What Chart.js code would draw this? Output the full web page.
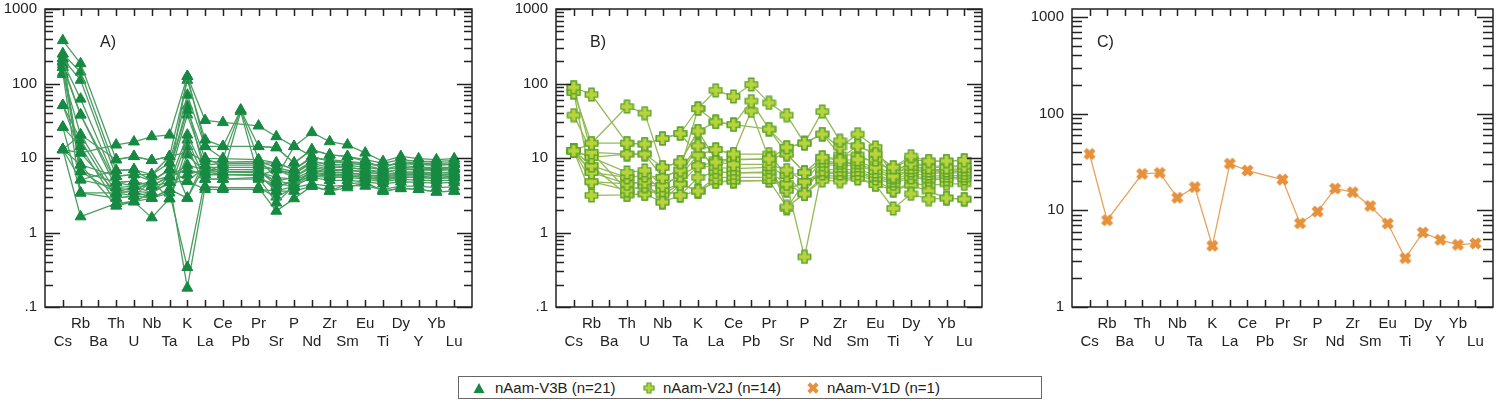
<!DOCTYPE html>
<html>
<head>
<meta charset="utf-8">
<script src="https://cdn.jsdelivr.net/npm/chart.js@4.4.1/dist/chart.umd.min.js"></script>
<style>
  body { margin: 0; background: #fff; width: 1500px; height: 408px; position: relative; overflow: hidden;
         font-family: "Liberation Sans", Arial, sans-serif; color: #222; }
  canvas { position: absolute; top: 0; }
  .etiqueta { position: absolute; top: 33px; font-size: 16px; line-height: 18px; }
  #leyenda { position: absolute; left: 458px; top: 376px; width: 584px; height: 23px; box-sizing: border-box;
             border: 1px solid #666; font-size: 15px; }
  .item { position: absolute; top: 2px; line-height: 18px; white-space: nowrap; }
  .item svg { position: absolute; top: 3px; }
</style>
</head>
<body>
<canvas id="chartA" width="490" height="355" style="left:0"></canvas>
<canvas id="chartB" width="500" height="355" style="left:490px"></canvas>
<canvas id="chartC" width="500" height="355" style="left:1000px"></canvas>
<div class="etiqueta" style="left:100px">A)</div>
<div class="etiqueta" style="left:590px">B)</div>
<div class="etiqueta" style="left:1097px">C)</div>
<div id="leyenda">
  <div class="item" style="left:36px"><svg width="12" height="12" style="left:-22px"><polygon points="6,1 11.5,11 0.5,11" fill="#168a42"/></svg>nAam-V3B (n=21)</div>
  <div class="item" style="left:204px"><svg width="12" height="12" style="left:-20px"><polygon points="4,1 8,1 8,4 11,4 11,8 8,8 8,11 4,11 4,8 1,8 1,4 4,4" fill="#b9d43a" stroke="#5da42f" stroke-width="1.2"/></svg>nAam-V2J (n=14)</div>
  <div class="item" style="left:368px"><svg width="12" height="12" style="left:-20px"><g transform="rotate(45 6 6)"><polygon points="4,0 8,0 8,4 12,4 12,8 8,8 8,12 4,12 4,8 0,8 0,4 4,4" fill="#e6913c"/></g></svg>nAam-V1D (n=1)</div>
</div>
<script>
// Elementos del diagrama multielemento (eje X)
const elementos = ['Cs', 'Rb', 'Ba', 'Th', 'U', 'Nb', 'Ta', 'K', 'La', 'Ce', 'Pb', 'Pr', 'Sr', 'P',
                   'Nd', 'Zr', 'Sm', 'Eu', 'Ti', 'Dy', 'Y', 'Yb', 'Lu'];

// Marcas del eje Y
const ticksAB = [0.1, 1, 10, 100, 1000];
const etiquetasAB = ['.1', '1', '10', '100', '1000'];
const ticksC = [1, 10, 100, 1000];
const etiquetasC = ['1', '10', '100', '1000'];

// nAam-V3B (n=21), normalizado
const serieV3B = [
  [13, 11.7, null, 15, 16.5, 19.4, 20.4, 125, 32, 30, null, 27, 19.4, 14.3, 22, 16.6, 15, 11.7, 9, 10.5, 9.8, 9.5, 9.8],
  [378, 185, null, 9.5, 10.5, 9.3, 10.5, 111, 17.5, 14.3, 44, 14.3, 13.8, 8.6, 12.9, 11, 10.5, 9, 7.5, 9, 8.5, 8.5, 8.6],
  [250, 143, null, 6.8, 7, 6, 8.6, 70, 14.3, 9.8, null, 9.5, 8.6, 7, 10.5, 9, 8.5, 8, 7, 8, 7.5, 7.5, 7.5],
  [215, 111, null, 5.7, 6, 4.9, 7, 44, 9.8, 8, null, 8, 7, 6, 9, 8, 7.5, 7, 6.5, 7, 7, 6.8, 7],
  [194, 62, null, 4.7, 4.9, 4.2, 5.7, 38, 8, 6.5, null, 6.6, 4.9, 5.5, 8, 7, 7, 6.5, 6, 6.5, 6.5, 6.3, 6.5],
  [166, 38, null, 4, 4.2, 3.4, 4.7, 20.4, 6.5, 6, null, 6, 3.6, 4.2, 7, 6.5, 6.3, 6, 5.5, 6, 6, 5.8, 6],
  [133, 20.5, null, 3.4, 3.6, 2.9, 3.8, 17.5, 5.2, 5.2, null, 5.5, 2.5, 4.2, 6, 5.7, 5.8, 5.5, 5, 5.5, 5.5, 5.3, 5.5],
  [51, 17.5, null, 2.9, 3.1, 4.9, 2.85, 14.3, 4.1, 4, null, 4, 1.94, 2.85, 4.2, 3.6, 4.5, 4.7, 3.6, 3.9, 3.8, 3.5, 3.6],
  [26, 14.3, null, 2.45, 2.6, 1.58, 2.85, 11, 6.5, 6.5, null, 6.3, 4.9, 4.5, 6.5, 6, 6, 5.8, 5.3, 5.8, 5.7, 5.5, 5.7],
  [13, 8.1, null, 2.27, 2.6, 3.4, 5.7, 7, 6, 6, null, 5.8, 7, 5.5, 7.5, 6.8, 6.8, 6.5, 6, 6.3, 6.3, 6, 6.2],
  [220, 6.6, null, 3.4, 4.2, 4.2, 4.7, 6, 7, 7, null, 7, 4.2, 4.8, 5.7, 5.5, 5.5, 5.2, 4.8, 5.2, 5, 5, 5],
  [13, 5.1, null, 4, 3.6, 4.9, 7, 4.9, 7.5, 7.5, null, 7.5, 7, 6.2, 8.5, 7.5, 7.5, 7, 6.2, 7.2, 7, 7, 7.2],
  [26, 3.4, null, 2.9, 3.1, 2.9, 3.8, 2.9, 8, 8.5, null, 8.5, 8.6, 7, 10, 9.5, 9, 8.5, 7.8, 8.5, 8.2, 8, 8.2],
  [13, 1.63, null, 2.45, 2.6, 2.9, 3.4, 0.34, 5.2, 5.2, null, 5.2, 4.5, 4.2, 5.5, 5, 5, 4.8, 4.5, 4.8, 4.7, 4.6, 4.7],
  [51, 11.7, null, 3.4, 3.6, 3.4, 4.7, 0.18, 4.1, 4, null, 4, 3, 4, 4.5, 4.2, 4.3, 4.2, 3.8, 4.2, 4.2, 4, 4.1],
  [166, 6.6, null, 4.7, 4.9, 4.2, 5.7, 8, 7, 6.5, null, 6.5, 5.5, 5.2, 6.8, 6.3, 6.3, 6, 5.7, 6.1, 6.1, 6, 6],
  [200, 8.1, null, 5.7, 6, 6, 10.5, 12, 9, 8.8, null, 9, 7.5, 6.5, 9, 8.3, 8, 7.5, 7, 7.5, 7.3, 7.2, 7.4],
  [250, 5.1, null, 6.8, 7, 4.9, 7, 50, 6, 6, 42, 5.5, 4, 5, 6.3, 5.8, 5.7, 5.5, 5.2, 5.6, 5.4, 5.4, 5.4],
  [140, 3.4, null, 3.4, 3.1, 3.4, 4.7, 4.9, 3.8, 3.8, null, 3.8, 3.6, 3.6, 4.2, 3.6, 4, 4.7, 3.6, 3.9, 3.8, 3.5, 3.6],
  [180, 38, null, 4.7, 4.2, 4.9, 5.7, 125, 14.3, 14.3, null, 14.3, 13.8, 8.6, 12.9, 11, 10.5, 9.5, 8.5, 9.5, 9, 9, 9.2],
  [13, 20.5, null, 9.5, 10.5, 9.3, 10.5, 2.9, 9.8, 9.8, 44, 9.5, 5.5, 14.3, 10.5, 9, 8.8, 8.4, 7.8, 8.5, 8.2, 8, 8.3]
];

// nAam-V2J (n=14)
const serieV2J = [
  [89, 71, null, 15.8, 15.4, 18.3, 21.3, 46, 81, 67, 97, 55, 37.6, 15.8, 42, 17, 14.6, 11.3, 7.5, 10.6, 9.1, 9.1, 9.3],
  [76, 15.8, null, 49, 40, 7.5, 8.8, 23, 30.5, 28, 58, 24.4, 13.9, 16, 20.9, 14, 20.9, 13.9, 5.7, 8.5, 7.5, 7.5, 7.8],
  [37.6, 11.9, null, 11.3, 11.3, 5.5, 6.9, 14.6, 13, 11.3, 43, 9.7, 11.3, 6.4, 10.2, 9.2, 9.6, 9.5, 6.5, 8.8, 7.8, 7.8, 7.9],
  [12.5, 10.2, null, 6.4, 6.8, 4.3, 5.8, 11, 8.8, 8.2, null, 8.2, 6.9, 4.8, 9.2, 8.6, 8.8, 7.5, 6.2, 7.5, 6.8, 6.8, 7],
  [12.5, 7.9, null, 5.5, 5.8, 3.7, 4.5, 7.9, 7.5, 7.2, null, 7.5, 5.8, 3.3, 8.2, 7.9, 7.9, 6.6, 5.4, 6.8, 6.2, 6.3, 6.3],
  [12.5, 6.4, null, 4.5, 4.8, 2.56, 3.15, 5.5, 6.5, 6.3, null, 6.5, 4.5, 0.47, 7, 7, 7, 6, 5, 6.3, 5.7, 5.8, 5.8],
  [12.5, 4.8, null, 3.7, 4.2, 3.2, 4.5, 3.6, 5.5, 5.5, null, 5.5, 3.7, 4.8, 6.2, 6.2, 6.2, 5.3, 4.5, 5.5, 5.1, 5.2, 5.3],
  [12.5, 3.15, null, 3.2, 3.3, 3.7, 3.15, 3.6, 4.8, 4.9, null, 5, 2.2, 3.3, 5, 4.9, 5.3, 4.4, 2.1, 3.3, 2.8, 2.9, 2.8],
  [89, 11.9, null, 3.7, 4.2, 4.3, 5.8, 7.9, 8.8, 9.5, null, 9.7, 2.1, 4.8, 5.8, 5.7, 5.8, 5, 3.7, 4.3, 3.6, 2.9, 2.8],
  [12.5, 15.8, null, 15.8, 15.4, 18.3, 21.3, 11, 13, 11.3, null, 11.3, 5.8, 6.4, 10.2, 9.8, 14.6, 11.3, 7.5, 9.5, 9.1, 9.1, 9.3],
  [12.5, 10.2, null, 11.3, 11.3, 7.5, 8.8, 23, 9.5, 9.5, null, 9.7, 13.9, 15.8, 20.9, 11, 11, 8.5, 6.9, 8, 7, 7, 7.2],
  [12.5, 6.4, null, 5.5, 5.8, 5.5, 6.9, 46, 30.5, 28, null, 24.4, 11.3, 6.4, 8.5, 8.5, 8.3, 7, 5.8, 7, 6.5, 6.5, 6.6],
  [76, 4.8, null, 4.5, 4.8, 4.3, 5.8, 14.6, 6.5, 6.3, null, 6.3, 3.7, 4.8, 6.5, 6.4, 6.5, 5.6, 4.8, 5.8, 5.3, 5.5, 5.5],
  [12.5, 7.9, null, 3.2, 3.3, 2.56, 4.5, 3.6, 4.8, 4.9, null, 5, 4.5, 3.3, 5.5, 5.3, 5.5, 4.4, 3.7, 4.6, 4.3, 4.5, 4.5]
];

// nAam-V1D (n=1)
const serieV1D = [38.3, 7.9, null, 23.8, 24.4, 13.5, 17.4, 4.3, 30.4, 25.8, null, 20.8, 7.35, 9.7,
                  16.8, 15.4, 11.1, 7.3, 3.2, 5.9, 4.95, 4.4, 4.55];

// Marcadores dibujados a mano (cruz rellena y aspa gruesa)
function crearCruz(relleno, borde, giro) {
    const c = document.createElement('canvas');
    c.width = 15; c.height = 15;
    const ctx = c.getContext('2d');
    ctx.translate(7.5, 7.5);
    ctx.rotate(giro);
    const a = giro ? 2.4 : 2.6, b = 6.2;
    const pts = [[-a,-b],[a,-b],[a,-a],[b,-a],[b,a],[a,a],[a,b],[-a,b],[-a,a],[-b,a],[-b,-a],[-a,-a]];
    ctx.beginPath();
    pts.forEach((p, i) => i ? ctx.lineTo(p[0], p[1]) : ctx.moveTo(p[0], p[1]));
    ctx.closePath();
    ctx.fillStyle = relleno;
    ctx.fill();
    if (borde) {
        ctx.strokeStyle = borde;
        ctx.lineWidth = 1.4;
        ctx.stroke();
    }
    return c;
}
const marcaV2J = crearCruz('#b9d43a', '#5da42f', 0);
const marcaV1D = crearCruz('#e6913c', null, Math.PI / 4);

// Marco y marcas hacia dentro, como en el original
const marcoPlugin = {
    id: 'marco',
    afterDatasetsDraw(chart, args, opts) {
        const { ctx, chartArea: a, scales: { x, y } } = chart;
        ctx.save();
        ctx.strokeStyle = '#222';
        ctx.lineWidth = 1.5;
        ctx.beginPath();
        for (let i = 0; i < elementos.length; i++) {
            const px = Math.round(x.getPixelForValue(i)) + 0.5;
            ctx.moveTo(px, a.bottom); ctx.lineTo(px, a.bottom - 7);
            ctx.moveTo(px, a.top); ctx.lineTo(px, a.top + 7);
        }
        const d0 = Math.floor(Math.log10(y.min)), d1 = Math.ceil(Math.log10(y.max));
        for (let d = d0; d <= d1; d++) {
            for (let k = 1; k <= 9; k++) {
                const v = k * Math.pow(10, d);
                if (v < y.min * 0.999 || v > y.max * 1.001) continue;
                const py = Math.round(y.getPixelForValue(v)) + 0.5;
                const len = k === 1 ? opts.mayor : opts.menor;
                ctx.moveTo(a.left, py); ctx.lineTo(a.left + len, py);
                ctx.moveTo(a.right, py); ctx.lineTo(a.right - len, py);
            }
        }
        ctx.stroke();
        ctx.strokeRect(a.left, a.top, a.right - a.left, a.bottom - a.top);
        ctx.restore();
    }
};

function crearGrafico(id, series, estilo, eje) {
    const datasets = series.map(s => ({
        data: s.map((v, i) => ({ x: i, y: v })),
        borderColor: estilo.linea,
        borderWidth: 1.3,
        pointStyle: estilo.punto,
        pointRadius: estilo.radio,
        pointBackgroundColor: estilo.marca,
        pointBorderColor: estilo.marca,
        pointBorderWidth: 1,
        spanGaps: true,
        tension: 0
    }));
    return new Chart(document.getElementById(id), {
        type: 'line',
        data: { datasets },
        plugins: [marcoPlugin],
        options: {
            responsive: false,
            animation: false,
            events: [],
            layout: { padding: { left: 0, right: eje.derecha, top: 9, bottom: 0 } },
            plugins: {
                legend: { display: false },
                tooltip: { enabled: false },
                marco: { mayor: eje.mayor, menor: eje.menor }
            },
            scales: {
                x: {
                    type: 'linear',
                    min: -1,
                    max: elementos.length,
                    grid: { display: false, drawTicks: false },
                    border: { display: false },
                    afterFit: s => { s.height = 48; s.paddingLeft = 0; s.paddingRight = 0; },
                    ticks: {
                        stepSize: 1,
                        autoSkip: false,
                        maxRotation: 0,
                        padding: 8,
                        color: '#222',
                        font: { family: 'Liberation Sans', size: 15 },
                        callback: v => {
                            const i = Math.round(v);
                            if (i < 0 || i >= elementos.length) return '';
                            return i % 2 === 0 ? ['', elementos[i]] : [elementos[i], ''];
                        }
                    }
                },
                y: {
                    type: 'logarithmic',
                    min: eje.min,
                    max: eje.max,
                    grid: { display: false, drawTicks: false },
                    border: { display: false },
                    afterFit: s => { s.width = eje.ancho; s.paddingTop = 0; s.paddingBottom = 0; },
                    afterBuildTicks: s => { s.ticks = eje.ticks.map(v => ({ value: v })); },
                    ticks: {
                        padding: 8,
                        color: '#222',
                        font: { family: 'Liberation Sans', size: 15 },
                        callback: (v, i) => eje.etiquetas[i]
                    }
                }
            }
        }
    });
}

crearGrafico('chartA', serieV3B,
    { linea: '#4c9d62', marca: '#168a42', punto: 'triangle', radio: 6.3 },
    { min: 0.1, max: 1000, ticks: ticksAB, etiquetas: etiquetasAB, ancho: 45, derecha: 18, mayor: 15, menor: 8 });

crearGrafico('chartB', serieV2J,
    { linea: '#94ba55', marca: '#5da42f', punto: marcaV2J, radio: 6 },
    { min: 0.1, max: 1000, ticks: ticksAB, etiquetas: etiquetasAB, ancho: 66, derecha: 8, mayor: 15, menor: 8 });

crearGrafico('chartC', [serieV1D],
    { linea: '#e9a35e', marca: '#e6913c', punto: marcaV1D, radio: 6 },
    { min: 1, max: 1210, ticks: ticksC, etiquetas: etiquetasC, ancho: 72, derecha: 1, mayor: 16, menor: 10 });
</script>
</body>
</html>
